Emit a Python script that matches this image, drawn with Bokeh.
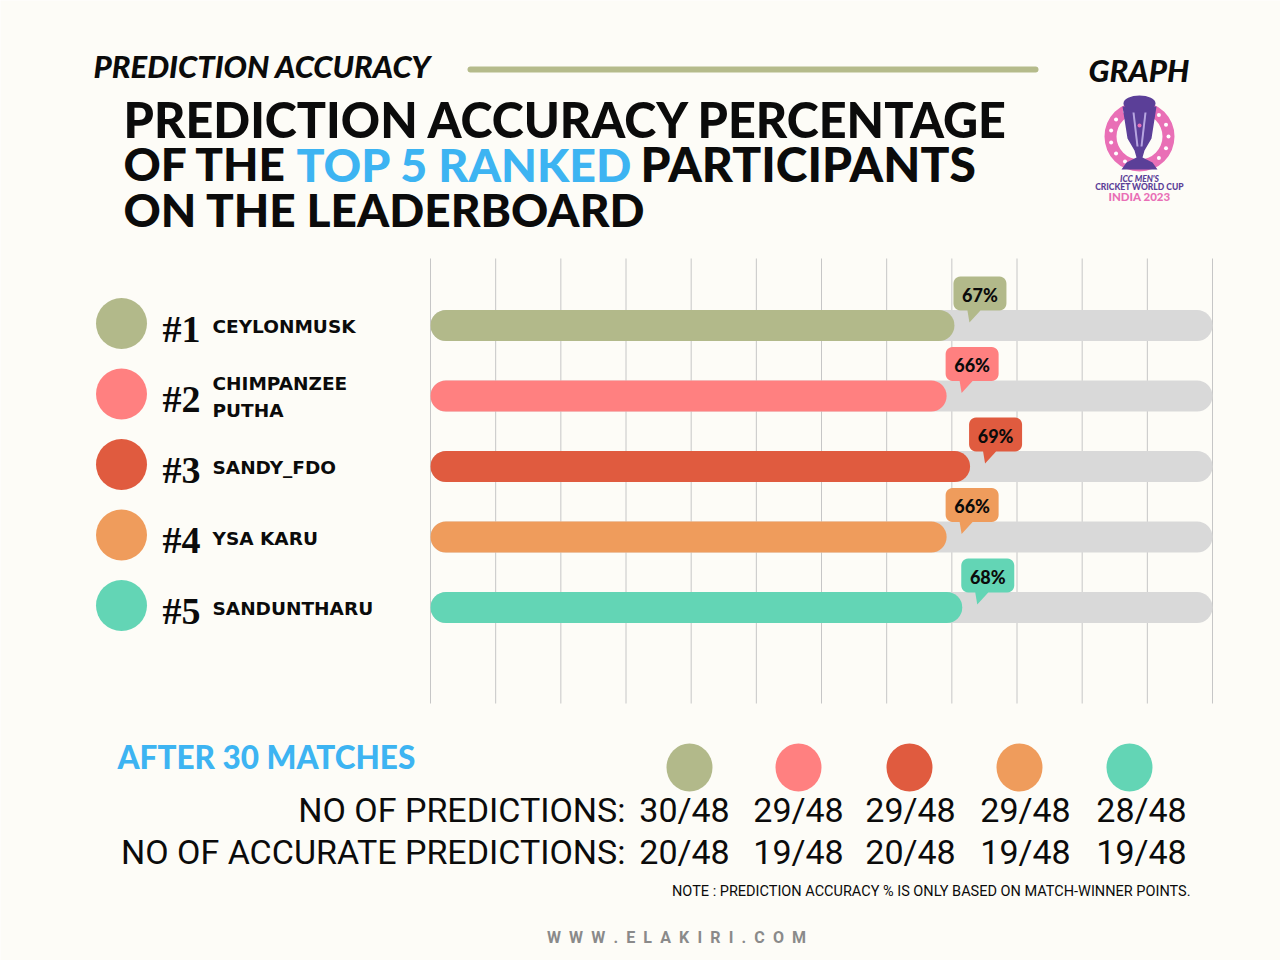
import math

from bokeh.core.properties import value
from bokeh.embed import file_html
from bokeh.models import Range1d
from bokeh.plotting import figure
from bokeh.resources import INLINE

# ---------------- data ----------------
ranks = ["#1", "#2", "#3", "#4", "#5"]
participants = ["CEYLONMUSK", "CHIMPANZEE\nPUTHA", "SANDY_FDO", "YSA KARU", "SANDUNTHARU"]
accuracy_pct = [67, 66, 69, 66, 68]
predictions = ["30/48", "29/48", "29/48", "29/48", "28/48"]
accurate_predictions = ["20/48", "19/48", "20/48", "19/48", "19/48"]
grid_ticks = [0, 100 / 12, 200 / 12, 300 / 12, 400 / 12, 500 / 12, 600 / 12,
              700 / 12, 800 / 12, 900 / 12, 1000 / 12, 1100 / 12, 100]

# ---------------- style ----------------
palette = ["#b2b98a", "#ff8080", "#e05b3f", "#ef9c5c", "#63d5b5"]
BG = "#fdfcf7"
TRACK = "#d9d9d9"
BLUE = "#3db4f2"
INK = "#0b0b0b"
HEAVY = "Lato Black"

W, H = 1280, 960
PLOT_LEFT = 430      # screen x of 0 %
PX_PER_PCT = 7.82    # 100 % spans 782 px


def X(px):
    """screen x (px) -> percent units of the x scale"""
    return (px - PLOT_LEFT) / PX_PER_PCT


p = figure(width=W, height=H,
           x_range=Range1d(X(0), X(W)), y_range=Range1d(H, 0),
           output_backend="svg", toolbar_location=None, min_border=0,
           x_axis_location=None, y_axis_location=None)
p.grid.visible = False
p.outline_line_color = None
p.background_fill_color = BG
p.border_fill_color = BG


def txt(x, y, t, size, color=INK, font="Lato", style="bold", align="left", baseline="middle", alpha=1.0):
    p.text(x=x, y=y, text=t, text_font=value(font), text_font_size=size,
           text_font_style=style, text_color=color, text_align=align,
           text_baseline=baseline, text_alpha=alpha)


# ---------------- header ----------------
txt([X(93)], [65], ["PREDICTION ACCURACY"], "31px", style="bold italic", font=HEAVY)
p.segment(x0=[X(470)], x1=[X(1035)], y0=[69], y1=[69], line_color="#b5bb8b",
          line_width=6, line_cap="round")
txt([X(1088)], [69], ["GRAPH"], "31px", style="bold italic", font=HEAVY)

txt([X(123)], [118], ["PREDICTION ACCURACY PERCENTAGE"], "48.5px", font=HEAVY)
txt([X(123)], [163], ["OF THE"], "46px", font=HEAVY)
txt([X(296)], [163], ["TOP 5 RANKED"], "46.5px", color=BLUE, font=HEAVY)
txt([X(640)], [163], ["PARTICIPANTS"], "48px", font=HEAVY)
txt([X(123)], [209], ["ON THE LEADERBOARD"], "46px", font=HEAVY)

# ---------------- tournament badge ----------------
LOGO_CX, LOGO_CY = 1139, 136
PINK, PURPLE = "#e96fb6", "#5b3f98"
p.annulus(x=[X(LOGO_CX)], y=[LOGO_CY], inner_radius=23, outer_radius=35,
          inner_radius_units="screen", outer_radius_units="screen",
          fill_color=PINK, line_color=None)
dot_ang = [math.radians(a) for a in range(0, 360, 24)]
p.scatter(x=[X(LOGO_CX + 29 * math.cos(a)) for a in dot_ang],
          y=[LOGO_CY + 29 * math.sin(a) for a in dot_ang],
          size=4, color="white", line_color=None)
trophy_x = [1122, 1156, 1151, 1144, 1142, 1152, 1157, 1121, 1126, 1136, 1134, 1127]
trophy_y = [106, 106, 138, 150, 157, 162, 169, 169, 162, 157, 150, 138]
p.patch([X(v) for v in trophy_x], trophy_y, fill_color=PURPLE, line_color=None)
p.ellipse(x=[X(LOGO_CX)], y=[103], width=32, height=16, width_units="screen",
          height_units="screen", fill_color=PURPLE, line_color=None)
p.segment(x0=[X(1133), X(1145)], x1=[X(1137), X(1141)], y0=[112, 112], y1=[146, 146],
          line_color="#b7a6e0", line_width=2)
p.scatter(x=[X(LOGO_CX)], y=[125], size=4, color=PINK, line_color=None)
txt([X(LOGO_CX)], [178], ["ICC MEN'S"], "8.5px", color=PURPLE, style="bold italic", align="center", font=HEAVY)
txt([X(LOGO_CX)], [186], ["CRICKET WORLD CUP"], "8.5px", color=PURPLE, style="bold", align="center", font=HEAVY)
txt([X(LOGO_CX)], [196], ["INDIA 2023"], "11.5px", color=PINK, style="bold", align="center", font=HEAVY)

# ---------------- bar chart ----------------
row_y = [325 + i * 70.5 for i in range(len(accuracy_pct))]
BAR_H = 31
cap = (BAR_H / 2) / PX_PER_PCT

p.segment(x0=grid_ticks, x1=grid_ticks, y0=[258] * len(grid_ticks), y1=[703] * len(grid_ticks),
          line_color="#c6c6c6", line_width=1)

p.segment(x0=[cap] * 5, x1=[100 - cap] * 5, y0=row_y, y1=row_y,
          line_color=TRACK, line_width=BAR_H, line_cap="round")
p.segment(x0=[cap] * 5, x1=[a - cap for a in accuracy_pct], y0=row_y, y1=row_y,
          line_color=palette, line_width=BAR_H, line_cap="round")


def callout(x0, y0, w, h, r):
    pts = []

    def arc(cx, cy, a0, a1):
        for k in range(7):
            a = math.radians(a0 + (a1 - a0) * k / 6)
            pts.append((cx + r * math.cos(a), cy + r * math.sin(a)))

    arc(x0 + r, y0 + r, 180, 270)
    arc(x0 + w - r, y0 + r, 270, 360)
    arc(x0 + w - r, y0 + h - r, 0, 90)
    pts += [(x0 + 27, y0 + h), (x0 + 16, y0 + h + 12), (x0 + 14, y0 + h)]
    arc(x0 + r, y0 + h - r, 90, 180)
    return [X(a) for a, _ in pts], [b for _, b in pts]


BOX_W, BOX_H = 53, 34
xs, ys, lx, ly = [], [], [], []
for a, y in zip(accuracy_pct, row_y):
    end_px = PLOT_LEFT + a * PX_PER_PCT
    bx, by = end_px - 1, y - 49
    cx_, cy_ = callout(bx, by, BOX_W, BOX_H, 7)
    xs.append(cx_)
    ys.append(cy_)
    lx.append(X(bx + BOX_W / 2))
    ly.append(by + BOX_H / 2 + 1)
p.patches(xs, ys, fill_color=palette, line_color=None)
txt(lx, ly, [f"{a}%" for a in accuracy_pct], "18px", font=HEAVY, align="center")

# ---------------- participants ----------------
p.scatter(x=[X(121)] * 5, y=[y - 2 for y in row_y], size=51, color=palette, line_color=None)
txt([X(181)] * 5, [y + 3 for y in row_y], ranks, "38px", font="Liberation Serif", align="center")
name_x, name_y, name_t = [], [], []
for nm, y in zip(participants, row_y):
    lines = nm.split("\n")
    off = -(len(lines) - 1) * 13.5
    for j, ln in enumerate(lines):
        name_x.append(X(212))
        name_y.append(y + 1 + off + j * 27)
        name_t.append(ln)
txt(name_x, name_y, name_t, "18.5px", font="DejaVu Sans")

# ---------------- summary table ----------------
txt([X(117)], [756], ["AFTER 30 MATCHES"], "31.5px", color=BLUE, font=HEAVY)
dot_x = [689, 798, 909, 1019, 1129]
p.ellipse(x=[X(v) for v in dot_x], y=[767] * 5, width=46, height=48,
          width_units="screen", height_units="screen", fill_color=palette, line_color=None)
val_x = [684, 798, 910, 1025, 1141]
ROW_FONT = "34px"
txt([X(625)], [809], ["NO OF PREDICTIONS:"], ROW_FONT, font="Roboto", style="normal", align="right")
txt([X(625)], [851], ["NO OF ACCURATE PREDICTIONS:"], ROW_FONT, font="Roboto", style="normal", align="right")
txt([X(v) for v in val_x], [809] * 5, predictions, ROW_FONT, font="Roboto", style="normal", align="center")
txt([X(v) for v in val_x], [851] * 5, accurate_predictions, ROW_FONT, font="Roboto", style="normal", align="center")
txt([X(1190)], [891], ["NOTE : PREDICTION ACCURACY % IS ONLY BASED ON MATCH-WINNER POINTS."],
    "14.5px", font="Roboto", style="normal", align="right")

site = "\u2002".join("WWW.ELAKIRI.COM")
txt([X(676)], [937], [site], "16px", color="#8a8a8a", font="Roboto", style="bold", align="center")

open("out.html", "w").write(file_html(p, INLINE))
